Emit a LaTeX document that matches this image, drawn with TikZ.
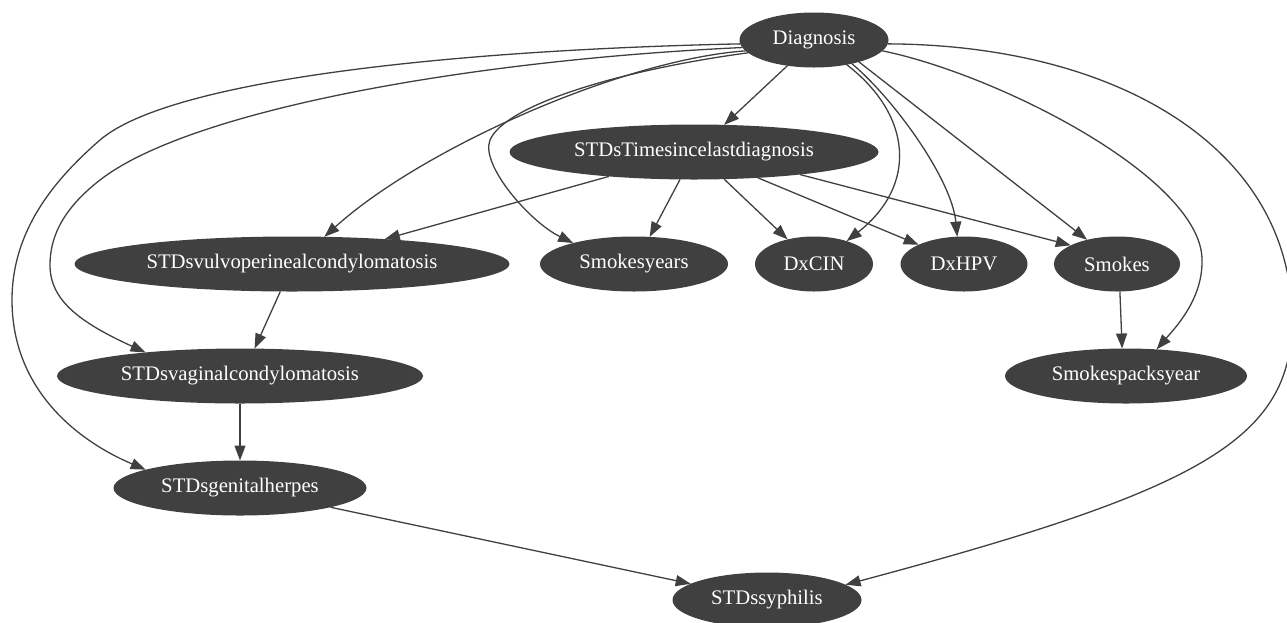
\documentclass[tikz,border=0pt]{standalone}
\usepackage{fontspec}
\setmainfont{Liberation Serif}
\usetikzlibrary{shapes.geometric,arrows.meta}
\definecolor{nodegray}{HTML}{404040}
\begin{document}
\begin{tikzpicture}[x=1pt,y=-1pt,
  var/.style={ellipse,fill=nodegray,text=white,inner sep=0pt,outer sep=0pt,minimum height=\varh pt,font=\fontsize{20.7}{24}\selectfont},
  edge/.style={draw=nodegray,line width=1.3pt,-{Triangle[length=15pt,width=11pt]}}]
\pgfmathsetmacro{\varh}{55}
\useasboundingbox (0,0) rectangle (1287,622);
\node[var,minimum width=149pt] (diag) at (814,40) {Diagnosis};
\node[var,minimum width=369pt] (stdtime) at (694,152) {STDsTimesincelastdiagnosis};
\node[var,minimum width=435pt] (vulvo) at (292,264) {STDsvulvoperinealcondylomatosis};
\node[var,minimum width=188pt] (smkyrs) at (634,264) {Smokesyears};
\node[var,minimum width=118pt] (dxcin) at (814,264) {DxCIN};
\node[var,minimum width=127pt] (dxhpv) at (964,264) {DxHPV};
\node[var,minimum width=126pt] (smokes) at (1117,264) {Smokes};
\node[var,minimum width=366pt] (vaginal) at (240,376) {STDsvaginalcondylomatosis};
\node[var,minimum width=242pt] (packs) at (1126,376) {Smokespacksyear};
\node[var,minimum width=253pt] (herpes) at (240,488) {STDsgenitalherpes};
\node[var,minimum width=189pt] (syph) at (767,600) {STDssyphilis};
\draw[edge] (diag.183) .. controls (450,50) and (170,80) .. (100,140) .. controls (55,179) and (12,230) .. (12,300) .. controls (12,390) and (78,441) .. (herpes.169);
\draw[edge] (diag.186) .. controls (470,60) and (190,110) .. (100,180) .. controls (60,211) and (50,240) .. (50,265) .. controls (50,300) and (79,322) .. (vaginal.166);
\draw[edge] (diag.189) .. controls (620,60) and (420,150) .. (vulvo.40);
\draw[edge] (diag.191) .. controls (620,70) and (505,105) .. (490,140) .. controls (480,165) and (530,222) .. (smkyrs.161);
\draw[edge] (diag.224) -- (stdtime.42);
\draw[edge] (diag.323) .. controls (912,115) and (918,185) .. (dxcin.35);
\draw[edge] (diag.328) .. controls (895,100) and (952,180) .. (dxhpv.104);
\draw[edge] (diag.334) -- (smokes.141);
\draw[edge] (diag.351) .. controls (1000,75) and (1205,180) .. (1202,262) .. controls (1202,300) and (1175,328) .. (packs.41);
\draw[edge] (diag.357) .. controls (1120,45) and (1292,150) .. (1292,320) .. controls (1292,440) and (1200,490) .. (syph.11);
\draw[edge] (stdtime.196) -- (vulvo.15);
\draw[edge] (stdtime.243) -- (smkyrs.60);
\draw[edge] (stdtime.318) -- (dxcin.137);
\draw[edge] (stdtime.338) -- (dxhpv.157);
\draw[edge] (stdtime.348) -- (smokes.158);
\draw[edge] (vulvo.247) -- (vaginal.62);
\draw[edge] (vaginal.south) -- (herpes.north);
\draw[edge] (smokes.276) -- (packs.98);
\draw[edge] (herpes.348) -- (syph.168);
\end{tikzpicture}
\end{document}
